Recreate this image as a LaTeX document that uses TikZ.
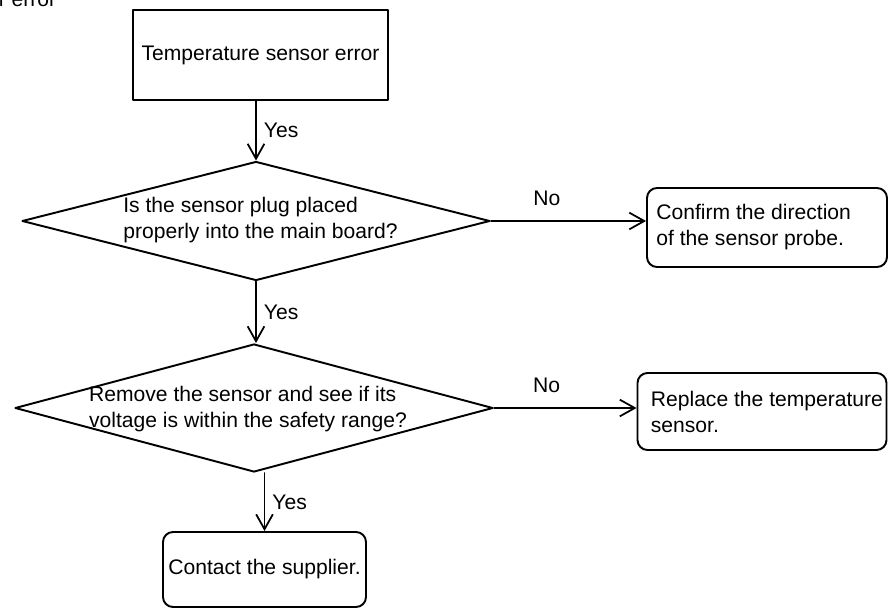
\documentclass[tikz,border=0pt]{standalone}
\usepackage{fontspec}
\setmainfont{Liberation Sans}
\usetikzlibrary{arrows.meta,shapes.geometric}

\begin{document}
\begin{tikzpicture}[font=\fontsize{12}{14.8}\selectfont,line cap=round,line join=round,x=1cm,y=1cm,
  stepbox/.style={draw,line width=1.1pt,inner sep=0pt},
  rbox/.style={stepbox,rounded corners=0.2cm},
  decision/.style={draw,diamond,line width=1.1pt,inner sep=0pt},
  txt/.style={align=left,inner sep=0pt},
  flow/.style={-{Straight Barb[length=8.5pt,width=9.5pt,line width=1pt]},line width=1pt},
  lbl/.style={inner sep=4pt}]
\useasboundingbox (0,0) rectangle (17.76,12.2);
\node[anchor=base west,inner sep=0pt] (cut) at (-0.03,12.07) {r error};
\node[stepbox,minimum width=5.10cm,minimum height=1.80cm] (err) at (5.21,11.10) {Temperature sensor error};
\node[decision,minimum width=9.36cm,minimum height=2.38cm] (plug) at (5.12,7.78) {};
\node[txt] (plugq) at (5.21,7.80) {Is the sensor plug placed\\properly into the main board?};
\node[decision,minimum width=9.56cm,minimum height=2.56cm] (volt) at (5.08,4.04) {};
\node[txt] (voltq) at (4.96,4.02) {Remove the sensor and see if its\\voltage is within the safety range?};
\node[rbox,minimum width=4.80cm,minimum height=1.58cm] (probe) at (15.34,7.65) {};
\node[txt,anchor=west] (probet) at ([xshift=0.2cm]probe.west) {Confirm the direction\\of the sensor probe.};
\node[rbox,minimum width=4.98cm,minimum height=1.54cm] (swap) at (15.24,3.97) {};
\node[txt,anchor=west] (swapt) at ([xshift=0.28cm]swap.west) {Replace the temperature\\sensor.};
\node[rbox,minimum width=4.06cm,minimum height=1.50cm] (supp) at (5.29,0.81) {Contact the supplier.};
\draw[flow] (err.south -| plug.north) -- node[lbl,right] (yes1) {Yes} (plug.north);
\draw[flow] (plug.south) -- node[lbl,right] (yes2) {Yes} (volt.north -| plug.south);
\draw[flow] (plug.east) -- node[lbl,above=4pt,pos=0.36] (no1) {No} (plug.east -| probe.west);
\draw[flow] (volt.east) -- node[lbl,above=4pt,pos=0.37] (no2) {No} (volt.east -| swap.west);
\draw[flow] (volt.south -| supp.north) -- node[lbl,right] (yes3) {Yes} (supp.north);
\end{tikzpicture}
\end{document}
